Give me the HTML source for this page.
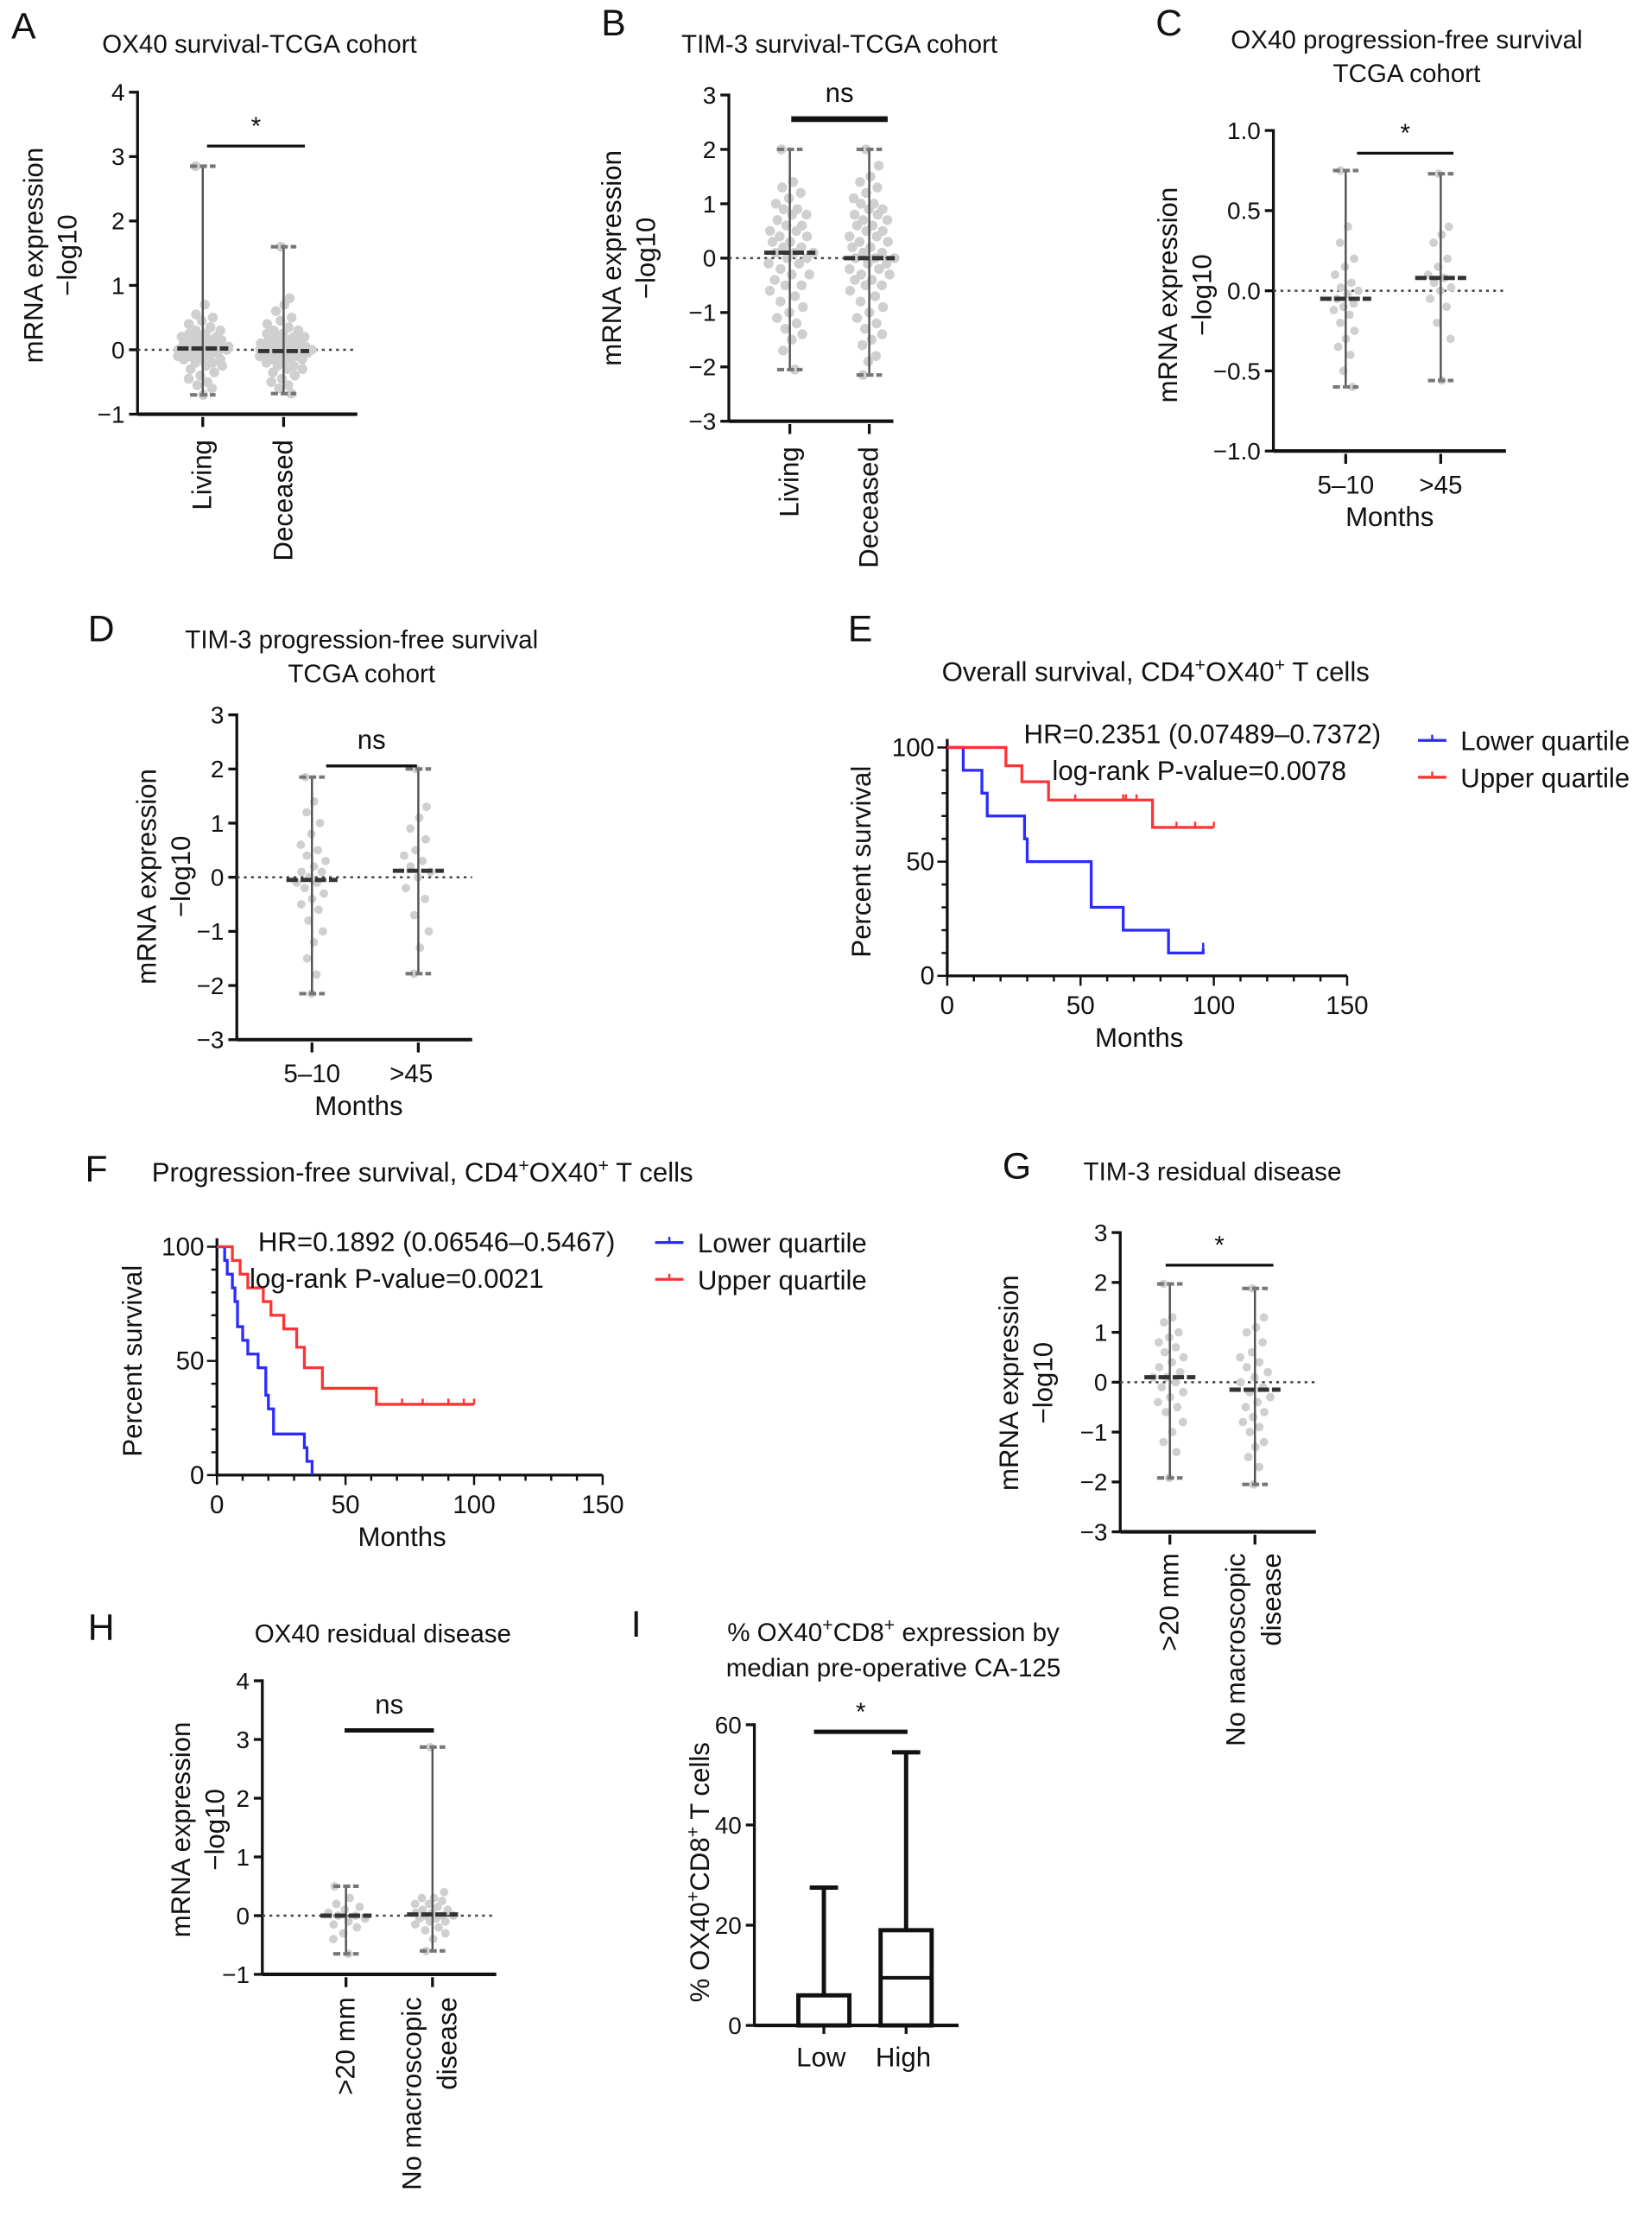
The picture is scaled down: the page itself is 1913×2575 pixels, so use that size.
<!DOCTYPE html>
<html><head><meta charset="utf-8">
<style>
html,body{margin:0;padding:0;background:#fff;}
svg{display:block;font-family:"Liberation Sans",Arial,sans-serif;}
</style></head>
<body>
<svg id="fig" xmlns="http://www.w3.org/2000/svg" width="1913" height="2575" viewBox="0 0 1165 1568" preserveAspectRatio="none">
<rect width="1165" height="1568" fill="#fff"/>
</svg>
<script>
// ---------- DATA ----------
const aLiving = [2.85,0.7,0.55,0.5,0.45,0.4,0.35,0.3,0.3,0.25,0.25,0.2,0.2,0.2,0.15,0.15,0.15,0.1,0.1,0.1,0.1,0.05,0.05,0.05,0.05,0,0,0,0,0,-0.05,-0.05,-0.05,-0.05,-0.1,-0.1,-0.1,-0.15,-0.15,-0.15,-0.2,-0.2,-0.25,-0.25,-0.3,-0.35,-0.4,-0.45,-0.5,-0.55,-0.6,-0.7];
const aDeceased = [1.6,0.8,0.7,0.6,0.5,0.45,0.4,0.35,0.3,0.3,0.25,0.25,0.2,0.2,0.2,0.15,0.15,0.15,0.1,0.1,0.1,0.1,0.05,0.05,0.05,0.05,0.05,0,0,0,0,0,0,-0.05,-0.05,-0.05,-0.05,-0.1,-0.1,-0.1,-0.1,-0.15,-0.15,-0.15,-0.2,-0.2,-0.25,-0.25,-0.3,-0.3,-0.35,-0.4,-0.45,-0.5,-0.55,-0.6,-0.68];
const aMedians = [0.02,-0.02];
const bLiving = [2,1.4,1.3,1.2,1.1,1.0,0.9,0.9,0.8,0.8,0.7,0.6,0.6,0.5,0.5,0.4,0.4,0.3,0.3,0.2,0.2,0.1,0.1,0.1,0,0,-0.1,-0.1,-0.2,-0.3,-0.3,-0.4,-0.5,-0.5,-0.6,-0.7,-0.8,-0.9,-1.0,-1.1,-1.2,-1.3,-1.4,-1.5,-1.7,-2.05];
const bDeceased = [2,1.7,1.5,1.4,1.3,1.2,1.1,1.0,1.0,0.9,0.9,0.8,0.8,0.7,0.7,0.6,0.6,0.5,0.5,0.4,0.4,0.3,0.3,0.2,0.2,0.1,0.1,0,0,0,-0.1,-0.1,-0.2,-0.2,-0.3,-0.3,-0.4,-0.4,-0.5,-0.5,-0.6,-0.7,-0.8,-0.9,-1.0,-1.1,-1.2,-1.3,-1.4,-1.5,-1.6,-1.8,-1.9,-2.15];
const bMedians = [0.1,0.0];
const cShort = [0.75,0.4,0.3,0.2,0.15,0.1,0.05,0.02,0,-0.02,-0.05,-0.08,-0.1,-0.12,-0.15,-0.2,-0.25,-0.3,-0.35,-0.4,-0.5,-0.6];
const cLong = [0.73,0.4,0.35,0.3,0.2,0.15,0.1,0.08,0.05,0.02,0,-0.05,-0.1,-0.2,-0.3,-0.56];
const cMedians = [-0.05,0.08];
const dShort = [1.85,1.4,1.2,1.0,0.8,0.6,0.5,0.4,0.3,0.2,0.1,0.1,0,-0.1,-0.1,-0.2,-0.3,-0.4,-0.5,-0.6,-0.8,-1.0,-1.2,-1.5,-1.8,-2.15];
const dLong = [2,1.3,1.1,0.9,0.7,0.5,0.4,0.3,0.2,0.1,0,-0.2,-0.4,-0.7,-1.0,-1.3,-1.78];
const dMedians = [-0.05,0.12];
const gLarge = [1.97,1.3,1.2,1.0,0.9,0.8,0.7,0.6,0.5,0.4,0.3,0.2,0.1,0.1,0,-0.1,-0.2,-0.3,-0.4,-0.5,-0.6,-0.8,-1.0,-1.2,-1.4,-1.92];
const gNone = [1.88,1.3,1.1,1.0,0.8,0.6,0.5,0.4,0.3,0.2,0.1,0,-0.1,-0.2,-0.3,-0.4,-0.5,-0.6,-0.7,-0.8,-0.9,-1.0,-1.2,-1.3,-1.5,-1.7,-2.05];
const gMedians = [0.1,-0.15];
const hLarge = [0.5,0.3,0.2,0.15,0.1,0.05,0,0,-0.05,-0.1,-0.15,-0.2,-0.3,-0.4,-0.65];
const hNone = [2.87,0.4,0.3,0.3,0.25,0.2,0.2,0.15,0.1,0.1,0.05,0.05,0,0,0,-0.05,-0.05,-0.1,-0.1,-0.15,-0.2,-0.25,-0.3,-0.4,-0.6];
const hMedians = [0.0,0.02];
const eLowerT = [0,6,13,15,29,30,54,66,83,96];
const eLowerS = [100,90,80,70,60,50,30,20,10,12];
const eUpperT = [0,22,28,38,77,100];
const eUpperS = [100,92,85,77,65,65];
const eUpperCens = [48,66,67,71,86,93,100];
const fLowerT = [0,3,4,6,7,8,10,12,16,19,20,22,34,35,37];
const fLowerS = [100,94,88,82,76,65,59,53,47,35,29,18,12,6,0];
const fUpperT = [0,6,9,12,18,21,26,31,34,41,62,100];
const fUpperS = [100,94,88,82,76,70,64,56,47,38,31,31];
const fUpperCens = [72,80,90,96,100];
const iCats = ["Low","High"];
const iMin = [0,0];
const iQ1 = [0,0];
const iMed = [0,9.5];
const iQ3 = [6,19];
const iMax = [27.5,54.5];

// ---------- HELPERS ----------
const NS="http://www.w3.org/2000/svg";
const svg=document.getElementById('fig');
function el(tag,attrs,parent){const e=document.createElementNS(NS,tag);for(const k in attrs)e.setAttribute(k,attrs[k]);(parent||svg).appendChild(e);return e;}
function txt(s,x,y,size,anchor,parent,rot){const t=el('text',{x:x,y:y,'font-size':size,'text-anchor':anchor||'middle',fill:'#111'},parent);if(rot)t.setAttribute('transform','rotate(-90 '+x+' '+y+')');t.innerHTML=s;return t;}
function lin(d0,d1,r0,r1){return v=>r0+(v-d0)*(r1-r0)/(d1-d0);}
function group(name){const g=el('g',{});return g;}

function yAxis(g,x,y,ticks,fmt,x1){
  const ys=ticks.map(y);
  el('line',{x1:x,y1:Math.min(...ys)-1,x2:x,y2:Math.max(...ys),stroke:'#111','stroke-width':2},g);
  ticks.forEach(t=>{el('line',{x1:x-6,y1:y(t),x2:x,y2:y(t),stroke:'#111','stroke-width':2},g);
    txt(fmt(t),x-9,y(t)+6,17,'end',g);});
  el('line',{x1:x,y1:Math.max(...ys),x2:x1,y2:Math.max(...ys),stroke:'#111','stroke-width':2.5},g);
}

function dotPlot(o){
  const g=group(o.name);
  const y=lin(o.d0,o.d1,o.r0,o.r1);
  yAxis(g,o.ax,y,o.ticks,o.fmt,o.axEnd);
  el('line',{x1:o.ax,y1:y(0),x2:o.axEnd,y2:y(0),stroke:'#444','stroke-width':1.5,'stroke-dasharray':'2,3'},g);
  o.groups.forEach((vals,gi)=>{
    const cx=o.xs[gi];
    el('line',{x1:cx,y1:o.r1+2,x2:cx,y2:o.r1+9,stroke:'#111','stroke-width':2},g);
    vals.forEach((v,i)=>{
      // deterministic low-discrepancy jitter (layout only)
      const w=o.maxW*Math.max(0.25,1-Math.abs(v)/o.spread);
      const u=((i*0.6180339887+gi*0.31)%1);
      const off=(u*2-1)*w;
      const c=el('circle',{cx:cx+off,cy:y(v),r:o.dot/2,fill:'#cfcfcf'},g);
      });
    const mx=Math.max(...vals),mn=Math.min(...vals);
    el('line',{x1:cx,y1:y(mx),x2:cx,y2:y(mn),stroke:'#555','stroke-width':1.5},g);
    [mx,mn].forEach(v=>el('line',{x1:cx-9,y1:y(v),x2:cx+9,y2:y(v),stroke:'#777','stroke-width':2.5,'stroke-dasharray':'5,2'},g));
    el('line',{x1:cx-18,y1:y(o.medians[gi]),x2:cx+18,y2:y(o.medians[gi]),stroke:'#333','stroke-width':3,'stroke-dasharray':'8,2'},g);
  });
  el('line',{x1:o.sig[0],y1:o.sig[2],x2:o.sig[1],y2:o.sig[2],stroke:'#111','stroke-width':o.sigW||2},g);
  txt(o.sigT,(o.sig[0]+o.sig[1])/2,o.sig[2]-(o.sigT=='*'?8:12),o.sigT=='*'?18:19,'middle',g);
  return g;
}

function km(o){
  const g=group(o.name);
  const x=lin(0,150,o.x0,o.x1), y=lin(0,100,o.y0,o.y1);
  el('line',{x1:o.x0,y1:o.y1-6,x2:o.x0,y2:o.y0,stroke:'#111','stroke-width':2},g);
  el('line',{x1:o.x0,y1:o.y0,x2:o.x1,y2:o.y0,stroke:'#111','stroke-width':2},g);
  for(let v=0;v<=150;v+=10){const big=v%50==0;el('line',{x1:x(v),y1:o.y0,x2:x(v),y2:o.y0+(big?7:4),stroke:'#111','stroke-width':1.5},g);
    if(big)txt(String(v),x(v),o.y0+27,18,'middle',g);}
  for(let v=0;v<=100;v+=10){const big=v%50==0;el('line',{x1:o.x0-(big?7:4),y1:y(v),x2:o.x0,y2:y(v),stroke:'#111','stroke-width':1.5},g);
    if(big)txt(String(v),o.x0-9,y(v)+6,18,'end',g);}
  txt('Months',x(72),o.y0+50,19,'middle',g);
  txt('Percent survival',o.ylx,(o.y0+o.y1)/2,19,'middle',g,true);
  function curve(T,S,col,nm,cens){
    let d='M'+x(T[0])+','+y(S[0]);
    for(let i=1;i<T.length;i++){d+=' H'+x(T[i])+' V'+y(S[i]);}
    const p=el('path',{d:d,fill:'none',stroke:col,'stroke-width':2},g);
    
    (cens||[]).forEach(c=>{let s=S[0];for(let i=0;i<T.length;i++)if(T[i]<=c)s=S[i];
      el('line',{x1:x(c),y1:y(s)-4,x2:x(c),y2:y(s),stroke:col,'stroke-width':1.5},g);});
  }
  curve(o.lT,o.lS,'#2b2bff','lower-quartile-curve',[o.lT[o.lT.length-1]]);
  curve(o.uT,o.uS,'#ff3333','upper-quartile-curve',o.uC);
  txt(o.hr,o.hrx,o.hry,19,'start',g);
  txt(o.lr,o.lrx,o.hry+26,19,'start',g);
  const lg=el('g',{},g);
  [['#2b2bff','Lower quartile',0],['#ff3333','Upper quartile',26]].forEach(([c,t,dy])=>{
    el('line',{x1:o.lgx,y1:o.lgy+dy,x2:o.lgx+20,y2:o.lgy+dy,stroke:c,'stroke-width':2},lg);
    el('line',{x1:o.lgx+10,y1:o.lgy+dy-4,x2:o.lgx+10,y2:o.lgy+dy,stroke:c,'stroke-width':1.5},lg);
    txt(t,o.lgx+30,o.lgy+dy+7,19,'start',lg);});
  return g;
}
function rotLabel(g,lines,x,yEnd,dx){lines.forEach((l,i)=>txt(l,x+i*dx,yEnd,19,'end',g,true));}

// ---------- PANEL LETTERS / TITLES ----------
[['A',8,27],['B',424,25],['C',815,25],['D',62,452],['E',598,452],['F',60,833],['G',707,831],['H',62,1156],['I',445,1154]].forEach(([l,x,y])=>{
  const t=txt(l,x,y,26,'start');});

const f1=x=>String(x).replace('-','−');
const f2=x=>(x<0?'−':'')+Math.abs(x).toFixed(1);

// A
let g=dotPlot({name:'panel-a-ox40-survival',d0:4,d1:-1,r0:65,r1:292,ax:97,axEnd:252,ticks:[4,3,2,1,0,-1],fmt:f1,xs:[143,200],groups:[aLiving,aDeceased],medians:aMedians,dot:7,maxW:20,spread:1,sig:[146,215,103],sigT:'*'});
txt('OX40 survival-TCGA cohort',183,37,18,'middle',g);
txt('mRNA expression',30,180,19,'middle',g,true);txt('−log10',54,180,19,'middle',g,true);
rotLabel(g,['Living'],149,310,0);rotLabel(g,['Deceased'],206,310,0);
// B
g=dotPlot({name:'panel-b-tim3-survival',d0:3,d1:-3,r0:67,r1:297,ax:514,axEnd:630,ticks:[3,2,1,0,-1,-2,-3],fmt:f1,xs:[557,613],groups:[bLiving,bDeceased],medians:bMedians,dot:7,maxW:18,spread:3,sig:[558,626,84],sigT:'ns',sigW:4});
txt('TIM-3 survival-TCGA cohort',592,37,18,'middle',g);
txt('mRNA expression',438,182,19,'middle',g,true);txt('−log10',462,182,19,'middle',g,true);
rotLabel(g,['Living'],563,315,0);rotLabel(g,['Deceased'],619,315,0);
// C
g=dotPlot({name:'panel-c-ox40-pfs',d0:1,d1:-1,r0:92,r1:318,ax:898,axEnd:1062,ticks:[1,0.5,0,-0.5,-1],fmt:f2,xs:[949,1016],groups:[cShort,cLong],medians:cMedians,dot:6,maxW:10,spread:1.2,sig:[957,1025,108],sigT:'*'});
txt('OX40 progression-free survival',992,34,18,'middle',g);txt('TCGA cohort',992,58,18,'middle',g);
txt('mRNA expression',830,208,19,'middle',g,true);txt('−log10',854,208,19,'middle',g,true);
txt('5–10',949,348,18,'middle',g);txt('&gt;45',1016,348,18,'middle',g);txt('Months',980,371,19,'middle',g);
// D
g=dotPlot({name:'panel-d-tim3-pfs',d0:3,d1:-3,r0:504,r1:733,ax:167,axEnd:333,ticks:[3,2,1,0,-1,-2,-3],fmt:f1,xs:[220,295],groups:[dShort,dLong],medians:dMedians,dot:6,maxW:12,spread:3,sig:[230,294,540],sigT:'ns'});
txt('TIM-3 progression-free survival',255,457,18,'middle',g);txt('TCGA cohort',255,481,18,'middle',g);
txt('mRNA expression',110,618,19,'middle',g,true);txt('−log10',134,618,19,'middle',g,true);
txt('5–10',220,763,18,'middle',g);txt('&gt;45',290,763,18,'middle',g);txt('Months',253,786,19,'middle',g);
// G
g=dotPlot({name:'panel-g-tim3-residual',d0:3,d1:-3,r0:869,r1:1080,ax:790,axEnd:928,ticks:[3,2,1,0,-1,-2,-3],fmt:f1,xs:[825,885],groups:[gLarge,gNone],medians:gMedians,dot:6,maxW:13,spread:3,sig:[822,898,892],sigT:'*'});
txt('TIM-3 residual disease',855,832,18,'middle',g);
txt('mRNA expression',718,975,19,'middle',g,true);txt('−log10',742,975,19,'middle',g,true);
rotLabel(g,['&gt;20 mm'],831,1095,0);rotLabel(g,['No macroscopic','disease'],878,1095,25);
// H
g=dotPlot({name:'panel-h-ox40-residual',d0:4,d1:-1,r0:1185,r1:1392,ax:185,axEnd:350,ticks:[4,3,2,1,0,-1],fmt:f1,xs:[244,305],groups:[hLarge,hNone],medians:hMedians,dot:6,maxW:16,spread:1,sig:[243,306,1220],sigT:'ns',sigW:3});
txt('OX40 residual disease',270,1158,18,'middle',g);
txt('mRNA expression',134,1290,19,'middle',g,true);txt('−log10',158,1290,19,'middle',g,true);
rotLabel(g,['&gt;20 mm'],250,1408,0);rotLabel(g,['No macroscopic','disease'],297,1408,25);
// E
g=km({name:'panel-e-overall-survival',x0:668,x1:950,y0:688,y1:527,ylx:614,lT:eLowerT,lS:eLowerS,uT:eUpperT,uS:eUpperS,uC:eUpperCens,
  hr:'HR=0.2351 (0.07489–0.7372)',lr:'log-rank P-value=0.0078',hrx:722,hry:524,lrx:742,lgx:1000,lgy:522});
txt('Overall survival, CD4<tspan dy="-7" font-size="13">+</tspan><tspan dy="7">OX40</tspan><tspan dy="-7" font-size="13">+</tspan><tspan dy="7"> T cells</tspan>',815,480,19,'middle',g);
// F
g=km({name:'panel-f-progression-free-survival',x0:153,x1:425,y0:1040,y1:879,ylx:100,lT:fLowerT,lS:fLowerS,uT:fUpperT,uS:fUpperS,uC:fUpperCens,
  hr:'HR=0.1892 (0.06546–0.5467)',lr:'log-rank   P-value=0.0021',hrx:182,hry:882,lrx:176,lgx:462,lgy:876});
txt('Progression-free survival, CD4<tspan dy="-7" font-size="13">+</tspan><tspan dy="7">OX40</tspan><tspan dy="-7" font-size="13">+</tspan><tspan dy="7"> T cells</tspan>',107,833,19,'start',g);
// I
g=group('panel-i-boxplot');
const iy=lin(0,60,1428,1216), ix=[581,639];
yAxis(g,532,iy,[60,40,20,0],String,676);
iCats.forEach((c,i)=>{
  const b=el('g',{},g);
  el('line',{x1:ix[i],y1:iy(iMax[i]),x2:ix[i],y2:iy(iQ3[i]),stroke:'#111','stroke-width':3},b);
  el('line',{x1:ix[i]-10,y1:iy(iMax[i]),x2:ix[i]+10,y2:iy(iMax[i]),stroke:'#111','stroke-width':3},b);
  el('rect',{x:ix[i]-18,y:iy(iQ3[i]),width:36,height:iy(iQ1[i])-iy(iQ3[i]),fill:'none',stroke:'#111','stroke-width':3},b);
  el('line',{x1:ix[i]-18,y1:iy(iMed[i]),x2:ix[i]+18,y2:iy(iMed[i]),stroke:'#111','stroke-width':2.5},b);
  el('line',{x1:ix[i],y1:1428,x2:ix[i],y2:1434,stroke:'#111','stroke-width':2},b);
  txt(c,ix[i]-2,1457,19,'middle',b);
});
el('line',{x1:574,y1:1221,x2:640,y2:1221,stroke:'#111','stroke-width':3},g);
txt('*',607,1213,18,'middle',g);
txt('% OX40<tspan dy="-7" font-size="13">+</tspan><tspan dy="7">CD8</tspan><tspan dy="-7" font-size="13">+</tspan><tspan dy="7"> expression by</tspan>',630,1157,18,'middle',g);
txt('median pre-operative CA-125',630,1182,18,'middle',g);
txt('% OX40<tspan dy="-7" font-size="13">+</tspan><tspan dy="7">CD8</tspan><tspan dy="-7" font-size="13">+</tspan><tspan dy="7"> T cells</tspan>',500,1320,19,'middle',g,true);
</script>
</body></html>
